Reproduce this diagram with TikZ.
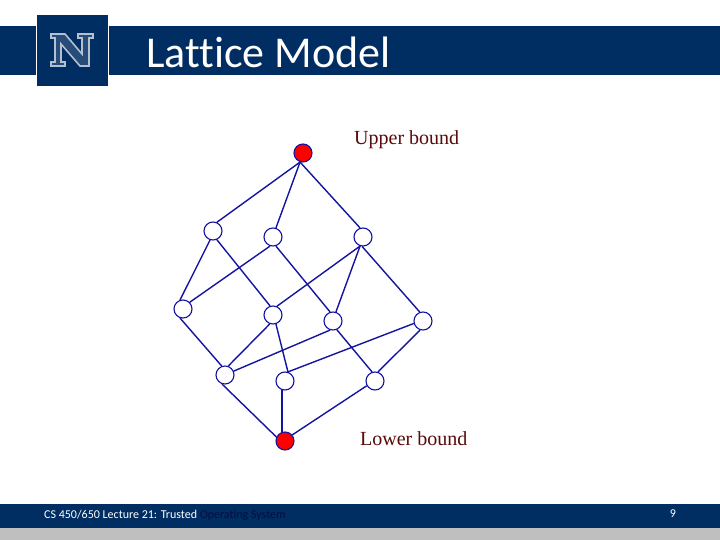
\documentclass[tikz,border=0pt]{standalone}
\usepackage{fontspec}
\setmainfont{Carlito}[RawFeature=-liga]
\newfontfamily\serifface{Liberation Serif}
\definecolor{navy}{HTML}{002E62}
\definecolor{edgeblue}{HTML}{1414A0}
\definecolor{labelred}{HTML}{5A0A0A}
\definecolor{footgray}{HTML}{BFBFBF}
\definecolor{footdark}{HTML}{060C40}
\definecolor{logoline}{HTML}{B4C0D0}
\tikzset{
  x=1pt,y=-1pt,
  latt/.style={circle,draw=edgeblue,line width=1.1pt,fill=white,minimum size=18pt,inner sep=0pt},
  bound/.style={latt,fill=red},
  edge/.style={draw=edgeblue,line width=1.4pt},
  lbl/.style={font=\serifface\fontsize{20}{20}\selectfont,text=labelred,inner sep=0pt},
}
\begin{document}
\begin{tikzpicture}
\useasboundingbox (0,0) rectangle (720,540);
\fill[white] (0,0) rectangle (720,540);
\fill[navy] (0,26) rectangle (36,75);
\fill[navy] (109,26) rectangle (720,75);
\fill[navy] (37,15) rectangle (108,86);
\fill[navy] (0,504) rectangle (720,528);
\fill[footgray] (0,528) rectangle (720,540);
% logo
\draw[logoline,line width=1.6pt,line join=miter,fill=navy!85!white]
 (51,34) -- (65,34) -- (82,54) -- (82,38) -- (78,38) -- (78,34) -- (93,34) -- (93,38) -- (89,38)
 -- (89,66) -- (80,66) -- (61,44) -- (61,62) -- (65,62) -- (65,66) -- (51,66) -- (51,62) -- (55,62) -- (55,38) -- (51,38) -- cycle;
\node[anchor=west,text=white,inner sep=0pt,font=\fontsize{44}{44}\selectfont] (title) at (146,52) {Lattice Model};
\node[anchor=west,text=white,inner sep=0pt,font=\fontsize{12}{13}\selectfont] (foot) at (44,515) {CS 450/650 Lecture 21: Trusted \textcolor{footdark}{Operating System}};
\node[text=white,inner sep=0pt,font=\fontsize{12}{13}\selectfont] (pg) at (673,514) {9};
% lattice
\node[bound] (top) at (303,153) {};
\node[latt] (a) at (213,231) {};
\node[latt] (b) at (273,237) {};
\node[latt] (c) at (363,237) {};
\node[latt] (d) at (183,309) {};
\node[latt] (e) at (273,315) {};
\node[latt] (f) at (333,321) {};
\node[latt] (g) at (423,321) {};
\node[latt] (h) at (225,375) {};
\node[latt] (i) at (285,381) {};
\node[latt] (j) at (375,381) {};
\node[bound] (bot) at (285,441) {};
\foreach \p/\pa/\q/\qa in {top/252/a/66,top/252/b/72,top/252/c/108,
  a/252/d/108,a/294/e/108,b/252/d/45,b/288/f/108,
  c/252/e/66,c/252/f/72,c/265/g/110,
  d/252/h/110,e/250/h/70,e/288/i/72,f/252/h/24,f/294/j/108,
  g/195/i/72,g/252/j/72,h/252/bot/155,i/252/bot/108,j/210/bot/40}
  \draw[edge] (\p.\pa) -- (\q.\qa);
\node[lbl,anchor=base west] (ub) at (354,145) {Upper bound};
\node[lbl,anchor=base west] (lb) at (360,445) {Lower bound};
\end{tikzpicture}
\end{document}
